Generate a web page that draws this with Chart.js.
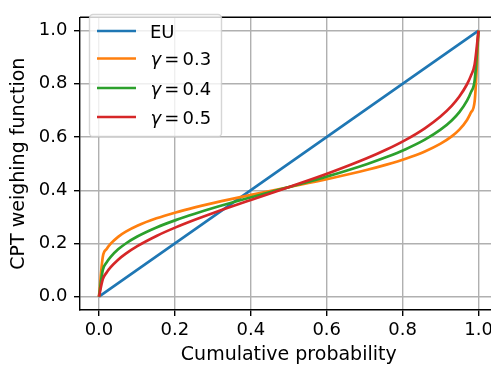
<!DOCTYPE html>
<html>
<head>
<meta charset="utf-8">
<script src="https://cdn.jsdelivr.net/npm/chart.js@4/dist/chart.umd.min.js"></script>
<style>
html,body{margin:0;padding:0;overflow:hidden;background:#fff;width:491px;height:373px}
canvas{display:block}
</style>
</head>
<body>
<canvas id="c" width="500" height="373" style="width:500px;height:373px"></canvas>
<script>
// ---- data ----
const probs = [0, 0.0101, 0.0202, 0.0303, 0.0505, 0.0707, 0.1010, 0.1515, 0.2020, 0.2525, 0.3030, 0.4040, 0.5051, 0.6061, 0.7071, 0.7576, 0.8081, 0.8586, 0.8990, 0.9293, 0.9495, 0.9697, 0.9798, 0.9899, 1];
const euX = [0, 1];
const euY = [0, 1];
const w03 = [0, 0.1503, 0.1793, 0.1984, 0.2250, 0.2443, 0.2665, 0.2945, 0.3167, 0.3358, 0.3528, 0.3838, 0.4132, 0.4434, 0.4769, 0.4963, 0.5186, 0.5460, 0.5742, 0.6026, 0.6280, 0.6644, 0.6917, 0.7347, 1];
const w04 = [0, 0.1006, 0.1291, 0.1489, 0.1779, 0.1999, 0.2260, 0.2600, 0.2878, 0.3120, 0.3341, 0.3747, 0.4137, 0.4540, 0.4990, 0.5247, 0.5544, 0.5902, 0.6266, 0.6623, 0.6936, 0.7369, 0.7678, 0.8142, 1];
const w05 = [0, 0.0660, 0.0913, 0.1101, 0.1390, 0.1618, 0.1900, 0.2283, 0.2605, 0.2892, 0.3158, 0.3656, 0.4142, 0.4647, 0.5210, 0.5531, 0.5896, 0.6330, 0.6762, 0.7173, 0.7522, 0.7984, 0.8298, 0.8739, 1];
const seriesLabels = ['EU', 'γ = 0.3', 'γ = 0.4', 'γ = 0.5'];
const xTickValues = [0, 0.2, 0.4, 0.6, 0.8, 1.0];
const yTickValues = [0, 0.2, 0.4, 0.6, 0.8, 1.0];
const xTitle = 'Cumulative probability';
const yTitle = 'CPT weighing function';

// ---- styling ----
const colors = ['#1f77b4', '#ff7f0e', '#2ca02c', '#d62728'];
const FONT = 'DejaVu Sans';
Chart.defaults.font.family = FONT;
Chart.defaults.color = '#000';

function pts(xs, ys) { return xs.map((x, i) => ({x: x, y: ys[i]})); }

const seriesData = [pts(euX, euY), pts(probs, w03), pts(probs, w04), pts(probs, w05)];

const datasets = seriesData.map((d, i) => ({
  label: seriesLabels[i],
  data: d,
  borderColor: colors[i],
  backgroundColor: colors[i],
  borderWidth: 2.7,
  pointRadius: 0,
  fill: false,
  cubicInterpolationMode: 'monotone',
  order: seriesData.length - 1 - i
}));

const framePlugin = {
  id: 'frame',
  afterDatasetsDraw(chart) {
    const ctx = chart.ctx, a = chart.chartArea;
    ctx.save();
    ctx.strokeStyle = '#000';
    ctx.lineWidth = 1.4;
    ctx.beginPath();
    ctx.moveTo(a.left, a.top); ctx.lineTo(a.right, a.top);
    ctx.moveTo(a.right, a.top); ctx.lineTo(a.right, a.bottom);
    ctx.stroke();
    ctx.restore();

    // legend (upper left, matplotlib style)
    const bx = 89.5, by = 14.5, bw = 132, bh = 122, r = 3.6;
    ctx.save();
    ctx.beginPath();
    ctx.moveTo(bx + r, by);
    ctx.lineTo(bx + bw - r, by);
    ctx.arcTo(bx + bw, by, bx + bw, by + r, r);
    ctx.lineTo(bx + bw, by + bh - r);
    ctx.arcTo(bx + bw, by + bh, bx + bw - r, by + bh, r);
    ctx.lineTo(bx + r, by + bh);
    ctx.arcTo(bx, by + bh, bx, by + bh - r, r);
    ctx.lineTo(bx, by + r);
    ctx.arcTo(bx, by, bx + r, by, r);
    ctx.closePath();
    ctx.fillStyle = 'rgba(255,255,255,0.8)';
    ctx.fill();
    ctx.strokeStyle = 'rgba(204,204,204,0.8)';
    ctx.lineWidth = 1.4;
    ctx.stroke();

    const rowsY = [31, 58.5, 88, 117];
    chart.data.datasets.forEach((ds, i) => {
      const y = rowsY[i];
      ctx.strokeStyle = ds.borderColor;
      ctx.lineWidth = 2.7;
      ctx.beginPath();
      ctx.moveTo(97, y); ctx.lineTo(136, y);
      ctx.stroke();
      ctx.fillStyle = '#000';
      ctx.textAlign = 'left';
      ctx.textBaseline = 'alphabetic';
      const base = y + 6.6;
      const lab = ds.label;
      if (lab.charAt(0) === 'γ') {
        const parts = lab.split(' ');
        ctx.font = 'italic 18px "' + FONT + '"';
        ctx.fillText(parts[0], 150.5, base);
        ctx.font = '18px "' + FONT + '"';
        ctx.fillText(parts[1], 164.3, base);
        ctx.fillText(parts[2], 182.5, base);
      } else {
        ctx.font = '18px "' + FONT + '"';
        ctx.fillText(lab, 150, base);
      }
    });
    ctx.restore();
  }
};

const gridOpts = {color: '#b0b0b0', lineWidth: 1.4, tickColor: '#000', tickLength: 6, tickWidth: 1.4};

new Chart(document.getElementById('c'), {
  type: 'line',
  data: {datasets: datasets},
  options: {
    responsive: false,
    animation: false,
    layout: {padding: {left: 0, top: 5, right: 2.5, bottom: 0}},
    plugins: {legend: {display: false}, tooltip: {enabled: false}},
    scales: {
      x: {
        type: 'linear', min: -0.05, max: 1.05,
        afterBuildTicks: s => { s.ticks = xTickValues.map(v => ({value: v})); },
        afterFit: s => { s.height = 63; },
        ticks: {callback: v => v.toFixed(1), font: {size: 18}, color: '#000', padding: 4, maxRotation: 0, autoSkip: false},
        grid: gridOpts,
        border: {color: '#000', width: 1.4},
        title: {display: true, text: xTitle, font: {size: 19}, color: '#000', padding: {top: 0, bottom: 6.5}}
      },
      y: {
        type: 'linear', min: -0.05, max: 1.05,
        afterBuildTicks: s => { s.ticks = yTickValues.map(v => ({value: v})); },
        afterFit: s => { s.width = 80; },
        ticks: {callback: v => v.toFixed(1), font: {size: 18}, color: '#000', padding: 6.5, autoSkip: false},
        grid: gridOpts,
        border: {color: '#000', width: 1.4},
        title: {display: true, text: yTitle, font: {size: 19}, color: '#000', padding: {top: 8, bottom: 0}}
      }
    }
  },
  plugins: [framePlugin]
});
</script>
</body>
</html>
